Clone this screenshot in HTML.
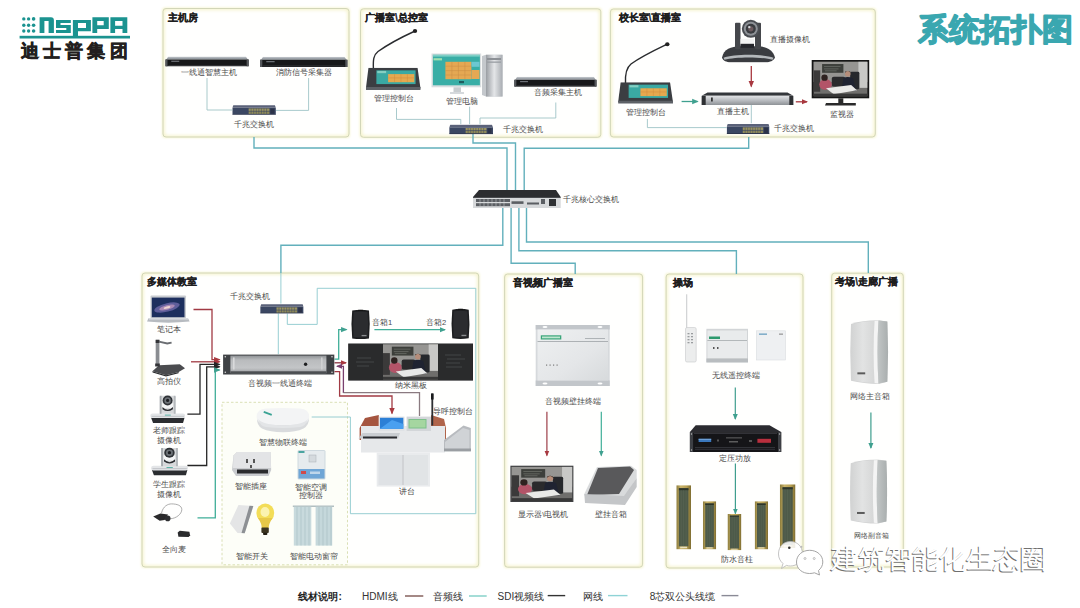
<!DOCTYPE html>
<html><head><meta charset="utf-8">
<style>
html,body{margin:0;padding:0;background:#fff;}
body{width:1080px;height:608px;overflow:hidden;position:relative;font-family:"Liberation Sans",sans-serif;}
svg{position:absolute;left:0;top:0;}
svg text{font-family:"Liberation Sans",sans-serif;}
.lb{font-size:7.6px;fill:#4a4a4a;text-anchor:middle;}
.tt{font-size:10px;font-weight:bold;fill:#1e1e1e;stroke:#1e1e1e;stroke-width:0.25px;transform:translateY(-0.7px);}
.bx{fill:#fffffe;filter:url(#bxg);}
.bxs{fill:none;stroke:#d2d6b8;stroke-width:1;}
.net{fill:none;stroke:#62b0bc;stroke-width:1.4;}
.thin{fill:none;stroke:#9fc4c6;stroke-width:0.9;}
</style></head>
<body>
<svg width="1080" height="608" viewBox="0 0 1080 608">
<defs>
  <filter id="glow" x="-5%" y="-5%" width="110%" height="110%">
    <feMorphology operator="dilate" radius="1.2" in="SourceAlpha" result="d"/>
    <feGaussianBlur in="d" stdDeviation="1.2" result="b"/>
    <feFlood flood-color="#f6f3cf"/>
    <feComposite in2="b" operator="in" result="s"/>
    <feMerge><feMergeNode in="s"/><feMergeNode in="SourceGraphic"/></feMerge>
  </filter>
  <marker id="arT" viewBox="0 0 6 6" refX="5" refY="3" markerWidth="5" markerHeight="5" orient="auto-start-reverse"><path d="M0,0.5 L6,3 L0,5.5z" fill="#3fa08f"/></marker>
  <marker id="arR" viewBox="0 0 6 6" refX="5" refY="3" markerWidth="5" markerHeight="5" orient="auto-start-reverse"><path d="M0,0.5 L6,3 L0,5.5z" fill="#a8383f"/></marker>
  <marker id="arP" viewBox="0 0 6 6" refX="5" refY="3" markerWidth="5" markerHeight="5" orient="auto-start-reverse"><path d="M0,0.5 L6,3 L0,5.5z" fill="#7a3f6e"/></marker>

  <linearGradient id="gTop" x1="0" y1="0" x2="0" y2="1"><stop offset="0" stop-color="#c9ced3"/><stop offset="1" stop-color="#7f858c"/></linearGradient>
  <linearGradient id="gSilver" x1="0" y1="0" x2="0" y2="1"><stop offset="0" stop-color="#e2e4e6"/><stop offset="0.5" stop-color="#b9bcc0"/><stop offset="1" stop-color="#8e9296"/></linearGradient>
  <linearGradient id="gSilverH" x1="0" y1="0" x2="1" y2="0"><stop offset="0" stop-color="#9a9ea3"/><stop offset="0.5" stop-color="#e4e6e8"/><stop offset="1" stop-color="#a9adb2"/></linearGradient>
  <linearGradient id="gWhite" x1="0" y1="0" x2="1" y2="0"><stop offset="0" stop-color="#d9dadb"/><stop offset="0.45" stop-color="#eeeeee"/><stop offset="0.75" stop-color="#dcdcdc"/><stop offset="1" stop-color="#a9acad"/></linearGradient>
  <linearGradient id="gDark" x1="0" y1="0" x2="0" y2="1"><stop offset="0" stop-color="#4a4d52"/><stop offset="1" stop-color="#1b1c1f"/></linearGradient>
  <linearGradient id="gGold" x1="0" y1="0" x2="1" y2="0"><stop offset="0" stop-color="#8a7a3a"/><stop offset="0.3" stop-color="#c9b36a"/><stop offset="0.7" stop-color="#b79f52"/><stop offset="1" stop-color="#7d6c30"/></linearGradient>
  <symbol id="sw" viewBox="0 0 44 10" preserveAspectRatio="none">
    <path d="M1,0.6 H43 L44,3.2 H0z" fill="#5b6279"/>
    <rect x="0" y="3.2" width="44" height="6.8" fill="#3b4762"/>
    <rect x="16.5" y="3.8" width="21" height="2.4" fill="#9c9560"/>
    <rect x="16.5" y="6.8" width="21" height="2.4" fill="#8f8a58"/>
    <g stroke="#3b4762" stroke-width="0.5"><path d="M19,3.8v5.4M21.6,3.8v5.4M24.2,3.8v5.4M26.8,3.8v5.4M29.4,3.8v5.4M32,3.8v5.4M34.6,3.8v5.4"/></g>
    <rect x="38.5" y="4" width="4" height="5" fill="#2b3248"/>
    <rect x="0" y="9.3" width="44" height="0.7" fill="#2a3147"/>
  </symbol>
  <symbol id="rk" viewBox="0 0 84 10" preserveAspectRatio="none">
    <path d="M3,0 H81 L83,3 H1z" fill="url(#gTop)"/>
    <rect x="0" y="3" width="84" height="7" fill="#17181a"/>
    <rect x="0" y="3" width="2.2" height="7" fill="#55585c"/>
    <rect x="81.8" y="3" width="2.2" height="7" fill="#55585c"/>
    <rect x="6" y="4.2" width="8" height="1.2" fill="#6d7177"/>
    <rect x="3" y="8.6" width="78" height="0.8" fill="#3b3d40"/>
  </symbol>
  <symbol id="ptz" viewBox="0 0 54 44" preserveAspectRatio="none">
    <path d="M0.5,39 C2,30 10,28 18,27.5 L37,27.5 C45,28 52,31 53.5,39 C52,42 48,43.5 45,43.5 L9,43.5 C5,43.5 1.5,42 0.5,39z" fill="#3a3c40"/>
    <path d="M2,39 C12,35 42,35 52,39 L51,41 C40,38 14,38 3,41z" fill="#b4b8bb"/>
    <rect x="13.5" y="4" width="5.5" height="26.5" rx="1" fill="#45474b"/>
    <rect x="33.5" y="4" width="6" height="26.5" rx="1" fill="#45474b"/>
    <rect x="19" y="20" width="13.5" height="6" fill="#f2f2f2"/>
    <rect x="19" y="25" width="13.5" height="4" fill="#24252a"/>
    <circle cx="29.3" cy="10" r="9" fill="#4a4d52"/>
    <circle cx="29.3" cy="10" r="7" fill="#8d9196"/>
    <circle cx="29.3" cy="10" r="5" fill="#3a3c40"/>
    <circle cx="29.3" cy="10" r="2.6" fill="#6b5a5e"/>
    <circle cx="27.8" cy="8.3" r="1.2" fill="#d8dbde"/>
  </symbol>
  <symbol id="console" viewBox="0 0 56 24" preserveAspectRatio="none">
    <path d="M2.6,0 H52.3 L55.3,22 H0z" fill="#3b3e42"/>
    <path d="M0,20.5 H55.2 L55.3,23.5 H0z" fill="#5d6166"/>
    <rect x="10.6" y="2.7" width="39.7" height="14.6" fill="#3aa9a3"/>
    <rect x="22.5" y="6.7" width="26.5" height="8.6" fill="#e6a94f"/>
    <rect x="11.5" y="3.3" width="9" height="2.4" fill="#84cfc2"/>
    <g stroke="#d08a3c" stroke-width="0.5"><path d="M29,6.7v8.6M35.5,6.7v8.6M42,6.7v8.6M22.5,10.7h26.5"/></g>
  </symbol>
  <symbol id="photo" viewBox="0 0 56 36" preserveAspectRatio="none">
    <rect width="56" height="36" fill="#6f6e6c"/>
    <rect x="0" y="0" width="56" height="21" fill="#969592"/>
    <rect x="9" y="2.5" width="22" height="9" fill="#3d3f3b"/>
    <path d="M11,5 h17 M11,7.5 h15 M12,9.5 h12" stroke="#7b7e77" stroke-width="0.6"/>
    <rect x="46.5" y="0" width="9.5" height="27" fill="#c8c8c6"/>
    <rect x="0" y="9" width="7" height="22" fill="#3b3a3a"/>
    <rect x="19" y="15.5" width="14" height="10" rx="2" fill="#2a2a2c"/>
    <rect x="38" y="10.5" width="9.5" height="18" rx="1.5" fill="#26282c"/>
    <ellipse cx="12.5" cy="23.5" rx="6.5" ry="5.5" fill="#b35468"/>
    <circle cx="11.5" cy="16.5" r="3.3" fill="#2e2220"/>
    <path d="M29,30 L31,17 Q35,14.5 41,17 L44,30z" fill="#1f2331"/>
    <circle cx="35.5" cy="12.5" r="2.9" fill="#b58d7a"/>
    <path d="M32.6,11.5 Q35.5,8 38.4,11.5 L38.3,10.5 Q35.5,8.6 32.7,10.5z" fill="#2a201c"/>
    <path d="M13,27.5 L39,24 L45,29.5 L21,33.5z" fill="#e9e9e7"/>
    <rect x="0" y="33" width="56" height="3" fill="#383838"/>
  </symbol>

  <symbol id="ptzw" viewBox="0 0 36 30" preserveAspectRatio="none">
    <path d="M1,24.6 H35 L33.5,29.9 H3z" fill="#2b2d30"/>
    <rect x="0.2" y="20.3" width="35.4" height="4.6" rx="2.2" fill="#e3e5e7"/>
    <rect x="1.5" y="22.8" width="33" height="0.8" fill="#b9bdc0"/>
    <rect x="15" y="21.6" width="6" height="0.8" fill="#3aa596"/>
    <path d="M9.8,4 Q9.8,2.5 11.5,2.5 H24.2 Q25.9,2.5 25.9,4 V20.7 H9.8z" fill="#d7d9db"/>
    <rect x="9.8" y="2.5" width="1.8" height="18.2" fill="#a7abaf"/>
    <rect x="24.1" y="2.5" width="1.8" height="18.2" fill="#b4b8bb"/>
    <rect x="12.2" y="10" width="11.2" height="5" fill="#f4f5f6"/>
    <path d="M12.6,13.8 Q17.9,19.5 23.2,13.8 V16 Q17.9,20 12.6,16z" fill="#2a2c30"/>
    <circle cx="17.8" cy="7.2" r="5" fill="#2f3236"/>
    <circle cx="17.8" cy="7.2" r="3.3" fill="#6e7378"/>
    <circle cx="17.8" cy="7.2" r="1.6" fill="#1c1e22"/>
  </symbol>
  <symbol id="spkB" viewBox="0 0 20 30" preserveAspectRatio="none">
    <path d="M1.5,1 Q10,-0.5 18.5,1 Q20,15 18.5,29 Q10,30.3 1.5,29 Q0,15 1.5,1z" fill="#1d1e20"/>
    <path d="M3,2.5 Q10,1.5 17,2.5 Q18.3,15 17,27.5 Q10,28.5 3,27.5 Q1.8,15 3,2.5z" fill="#2b2c2f"/>
    <rect x="7.5" y="0" width="5" height="1.2" fill="#111"/>
    <rect x="11" y="25.5" width="5" height="1.3" fill="#8a8c8f"/>
  </symbol>
  <symbol id="spkW" viewBox="0 0 40 65" preserveAspectRatio="none">
    <path d="M1.5,4 Q14,0 30,0.3 L38.5,1.5 Q40,32 38.5,62.5 L30,64.7 Q14,64.5 1.5,61.5 Q0,32 1.5,4z" fill="#d3d4d4"/>
    <path d="M2.3,4.5 Q14,1 25.5,1 Q23.5,32 25.5,63.8 Q14,63.5 2.3,61 Q1,32 2.3,4.5z" fill="url(#gSpk)"/>
    <path d="M25.5,1 L29.5,0.6 Q27.5,32 29.5,64.4 L25.5,63.8 Q23.5,32 25.5,1z" fill="#f4f4f4"/>
    <path d="M29.5,0.6 L38.5,1.5 Q40,32 38.5,62.5 L29.5,64.4 Q27.5,32 29.5,0.6z" fill="url(#gSpkR)"/>
    <rect x="8" y="53" width="8" height="2" fill="#5b5b5b"/>
  </symbol>
  <symbol id="col" viewBox="0 0 15 64" preserveAspectRatio="none">
    <rect width="15" height="64" fill="url(#gGold)"/>
    <rect x="2.6" y="3" width="9.8" height="58" fill="#4d5a49"/><rect x="2.6" y="3" width="9.8" height="2" fill="#2d3429"/>
    <g stroke="#5f6b59" stroke-width="0.5"><path d="M5,5v56M7.5,5v56M10,5v56"/></g>
    <rect x="4" y="61.3" width="7" height="1.5" fill="#e8e0c0"/>
  </symbol>
  <marker id="arK" viewBox="0 0 6 6" refX="5" refY="3" markerWidth="5" markerHeight="5" orient="auto-start-reverse"><path d="M0,0.5 L6,3 L0,5.5z" fill="#262626"/></marker>
  <linearGradient id="gAV" x1="0" y1="0" x2="0" y2="1"><stop offset="0" stop-color="#8f9295"/><stop offset="0.25" stop-color="#b9bbbd"/><stop offset="0.7" stop-color="#c3c5c7"/><stop offset="1" stop-color="#9a9c9f"/></linearGradient>
  <linearGradient id="gSpk" x1="0" y1="0" x2="1" y2="0"><stop offset="0" stop-color="#d2d3d3"/><stop offset="0.5" stop-color="#e2e3e3"/><stop offset="1" stop-color="#d6d7d7"/></linearGradient>
  <linearGradient id="gSpkR" x1="0" y1="0" x2="1" y2="0"><stop offset="0" stop-color="#c2c6c6"/><stop offset="1" stop-color="#a9aeae"/></linearGradient>
  <filter id="bxg" x="-5%" y="-5%" width="110%" height="110%">
    <feMorphology operator="dilate" radius="1" in="SourceAlpha" result="d"/>
    <feGaussianBlur in="d" stdDeviation="1.2" result="db"/>
    <feFlood flood-color="#f7f5d2" result="c"/>
    <feComposite in="c" in2="db" operator="in" result="outer"/>
    <feMorphology operator="erode" radius="2.2" in="SourceAlpha" result="e"/>
    <feGaussianBlur in="e" stdDeviation="1.4" result="eb"/>
    <feComposite in="SourceAlpha" in2="eb" operator="out" result="ring"/>
    <feComposite in="c" in2="ring" operator="in" result="inner"/>
    <feMerge><feMergeNode in="outer"/><feMergeNode in="SourceGraphic"/><feMergeNode in="inner"/></feMerge>
  </filter>
  <linearGradient id="gWT" x1="0" y1="0" x2="1" y2="1"><stop offset="0" stop-color="#eef0f1"/><stop offset="0.6" stop-color="#e4e6e8"/><stop offset="1" stop-color="#d7dadc"/></linearGradient>
</defs>

<!-- ============ BOXES ============ -->
<rect class="bx" x="163" y="8.5" width="186" height="128.5" rx="3"/>
<rect class="bxs" x="163" y="8.5" width="186" height="128.5" rx="3"/>
<rect class="bx" x="360.5" y="8.8" width="240.3" height="128.5" rx="3"/>
<rect class="bxs" x="360.5" y="8.8" width="240.3" height="128.5" rx="3"/>
<rect class="bx" x="610.4" y="9" width="264.9" height="128" rx="3"/>
<rect class="bxs" x="610.4" y="9" width="264.9" height="128" rx="3"/>
<rect class="bx" x="142" y="273" width="336.7" height="294" rx="3"/>
<rect class="bxs" x="142" y="273" width="336.7" height="294" rx="3"/>
<rect class="bx" x="504.6" y="274" width="138" height="293.2" rx="3"/>
<rect class="bxs" x="504.6" y="274" width="138" height="293.2" rx="3"/>
<rect class="bx" x="666.1" y="274" width="136.9" height="294" rx="3"/>
<rect class="bxs" x="666.1" y="274" width="136.9" height="294" rx="3"/>
<rect class="bx" x="831.7" y="273.2" width="71.6" height="293.8" rx="3"/>
<rect class="bxs" x="831.7" y="273.2" width="71.6" height="293.8" rx="3"/>

<!-- ============ NETWORK LINES ============ -->
<g class="net">
  <path d="M254,137 V148 H507 V191"/>
  <path d="M473,134 V143 H515.5 V191"/>
  <path d="M748.7,137 V148.3 H524.2 V191"/>
  <path d="M502.8,207 V245.2 H280.9 V273"/>
  <path d="M511.1,207 V263.2 H575.2 V274"/>
  <path d="M518.9,207 V250.8 H736.4 V274"/>
  <path d="M526.5,207 V242 H868.3 V273"/>
</g>


<!-- ============ DEVICES ============ -->
<g id="logo">
  <g fill="#1b9390">
    <circle cx="23.8" cy="18.9" r="1.7"/><circle cx="28.6" cy="18.9" r="1.7"/><circle cx="33.6" cy="18.9" r="1.8"/>
    <circle cx="23.8" cy="25.2" r="1.7"/><circle cx="28.6" cy="25.2" r="1.7"/><circle cx="33.6" cy="25.2" r="1.8"/>
    <circle cx="23.8" cy="31" r="1.7"/><circle cx="28.6" cy="31" r="1.7"/><circle cx="33.6" cy="31" r="1.8"/>
    <rect x="19.6" y="35.8" width="110.4" height="2.7"/>
  </g>
  <g fill="#1b9390" fill-rule="evenodd">
    <path d="M39.6,17.3 H51 Q53.9,17.3 53.9,20.3 V33.1 H48.6 V21 H44.4 V33.1 H39.6z"/>
    <path d="M56,19.9 H70.8 V23.1 H60.5 V24.9 H70.8 V33.1 H56 V29.9 H66.3 V28.1 H56z"/>
    <path d="M72.9,19.9 H90.9 V31.2 H78 V37.9 H72.9z M78,23.1 V28 H86 V23.1z"/>
    <path d="M92.4,17.3 H108.8 V28.9 H97.2 V33.1 H92.4z M97.2,21 V25.2 H103.7 V21z"/>
    <path d="M110.4,17.3 H127.3 V33.1 H122.5 V28.9 H115.1 V33.1 H110.4z M115.1,21 V25.7 H122.5 V21z"/>
  </g>
  <text x="20.5" y="56.8" style="font-size:18.4px;font-weight:900;fill:#231f20;stroke:#231f20;stroke-width:0.6px;letter-spacing:4.3px">迪士普集团</text>
</g>

<!-- Box 1 -->
<use href="#rk" x="165.3" y="56.5" width="83.5" height="10"/>
<use href="#rk" x="260" y="56.7" width="87.6" height="10.3"/>
<use href="#sw" x="232.3" y="104.6" width="43.6" height="10.1"/>
<g class="thin">
  <path d="M207,78 V110 H232.3"/>
  <path d="M308.6,78 V110.4 H276"/>
</g>

<!-- Box 2 -->
<g class="thin">
  <path d="M396.5,108 V119.4 H460.8 V124.2"/>
  <path d="M469.6,106.7 V124.2"/>
  <path d="M555.8,102.5 V118 H480 V124.2"/>
</g>
<path d="M373.4,68.5 C373,60 373.5,55 378,51.5 C390,43 402,37 414,31.5" fill="none" stroke="#2a2c2f" stroke-width="1.4"/>
<ellipse cx="415" cy="31" rx="2.2" ry="2" fill="#222"/>
<use href="#console" x="365.9" y="67.8" width="55.3" height="22.6"/>
<rect x="431.5" y="53.5" width="49.7" height="33.8" fill="#d9dee0"/>
<rect x="432.9" y="54.8" width="47" height="30.5" fill="#39aea6"/>
<rect x="432.9" y="54.8" width="47" height="1.8" fill="#7fd0c6"/>
<rect x="433.5" y="58.2" width="8.5" height="2.2" fill="#9fe0b0"/>
<rect x="445.4" y="61.8" width="26" height="17.4" fill="#e5a853"/>
<rect x="471.5" y="61.8" width="8" height="5" fill="#6cc7d1"/>
<rect x="471.5" y="70" width="8" height="9" fill="#e5a853"/>
<g stroke="#c98d44" stroke-width="0.5"><path d="M451.9,61.8v17.4M458.4,61.8v17.4M464.9,61.8v17.4M445.4,66.2h26M445.4,70.6h26M445.4,75h26"/></g>
<rect x="459" y="81" width="5" height="2.2" fill="#1d5b5d"/>
<rect x="453.5" y="87.3" width="7.5" height="5" fill="#c8cdd0"/>
<rect x="450" y="92" width="14" height="2" fill="#d5d9dc"/>
<path d="M482,56 L486,54.8 H502.5 V96.5 H486 L482,95z" fill="#c4c8cc"/>
<rect x="486" y="54.8" width="16.5" height="41.7" fill="url(#gSilverH)"/>
<rect x="487" y="58" width="14" height="2" fill="#8d9196"/>
<rect x="487" y="61.5" width="14" height="1.3" fill="#9a9ea3"/>
<use href="#rk" x="514.2" y="76.8" width="82.5" height="10"/>
<use href="#sw" x="449.2" y="124.2" width="43.8" height="10"/>

<!-- Box 3 -->
<g class="thin">
  <path d="M647.4,119 V127.6 H726.7"/>
  <path d="M751.3,105 V123.3"/>
</g>
<path d="M625.5,83.5 C625,74 626,68 631,64 C642,56 655,50 666.5,44.5" fill="none" stroke="#2a2c2f" stroke-width="1.4"/>
<ellipse cx="667.3" cy="44.2" rx="2.2" ry="2" fill="#222"/>
<use href="#console" x="618.1" y="82.2" width="55.6" height="21.8"/>
<use href="#ptz" x="721.5" y="18.8" width="54" height="44"/>
<path d="M707.5,92.5 H787.5 L793.3,95.8 H701.7z" fill="#34373b"/>
<rect x="701.7" y="95.8" width="91.6" height="9.2" fill="url(#gSilver)"/>
<rect x="701.7" y="95.8" width="4" height="9.2" fill="#2e3033"/>
<rect x="789.3" y="95.8" width="4" height="9.2" fill="#2e3033"/>
<rect x="711" y="97.5" width="1.8" height="4" fill="#333"/>
<rect x="811.7" y="60" width="57.5" height="38.3" fill="#161616"/>
<use href="#photo" x="813.4" y="61.6" width="54.2" height="35"/>
<rect x="838.3" y="98.3" width="5" height="4.7" fill="#2a2a2a"/>
<path d="M826,103 H855.8 L855.8,105.5 H825z" fill="#2a2a2a"/>
<use href="#sw" x="726.7" y="123.3" width="42.8" height="10.7"/>
<line x1="681.6" y1="101.5" x2="697.6" y2="101.5" stroke="#3fa08f" stroke-width="1.3" marker-end="url(#arT)"/>
<line x1="751.3" y1="66" x2="751.3" y2="86.5" stroke="#a8383f" stroke-width="1.3" marker-end="url(#arR)"/>
<line x1="795.8" y1="101.8" x2="807" y2="101.8" stroke="#a8383f" stroke-width="1.3" marker-end="url(#arR)"/>

<!-- Core switch -->
<path d="M479,190 H556 L560.7,197 H473z" fill="#2c2d30"/>
<rect x="473" y="197" width="87.7" height="11" fill="#d7d9db"/>
<rect x="473" y="197" width="87.7" height="1" fill="#4a4c50"/>
<g fill="#5b5e63">
  <rect x="476" y="199" width="34" height="3"/><rect x="476" y="203.2" width="34" height="3"/>
  <rect x="511.5" y="201.3" width="12" height="2.6"/>
  <rect x="527" y="202.5" width="12" height="2"/>
  <rect x="541" y="199" width="4" height="5"/>
  <rect x="549" y="199" width="7" height="7" fill="#2f3134"/>
</g>
<g stroke="#d7d9db" stroke-width="0.5"><path d="M480,199v7.2M484,199v7.2M488,199v7.2M492,199v7.2M496,199v7.2M500,199v7.2M504,199v7.2"/></g>

<!-- Box 4 : multimedia classroom -->
<rect x="222" y="402.3" width="125.5" height="162.5" fill="#fdfef8" stroke="#d6dcae" stroke-width="0.9" stroke-dasharray="2.5,2"/>
<!-- inner teal thin loop -->
<g fill="none" stroke="#8cc8cd" stroke-width="0.9">
  <path d="M280.9,273 V303.6"/>
  <path d="M278.3,313.5 V354.2"/>
  <path d="M287.3,313.5 V324.4 H317.2 V288.3 H475.8 V513.7 H350.4 V417 H311.7"/>
</g>
<!-- AV connection lines -->
<g fill="none" stroke-width="1.3">
  <path d="M193.5,309.5 H212 V359.6 H219.5" stroke="#a13a43" marker-end="url(#arR)"/>
  <path d="M191,361.8 H219.5" stroke="#a13a43" marker-end="url(#arR)"/>
  <path d="M187.4,414.2 H200 V364.4 H219.5" stroke="#262626" marker-end="url(#arK)"/>
  <path d="M187.4,465.5 H206.7 V366.8 H219.5" stroke="#262626" marker-end="url(#arK)"/>
  <path d="M197.5,517.8 H215.3 V370 H219.5" stroke="#3fae98" marker-end="url(#arT)"/>
  <path d="M334.5,359.2 H338.7 V329.6 H346.5" stroke="#3fae98" marker-end="url(#arT)"/>
  <path d="M374.4,329.7 H445" stroke="#3fae98" marker-end="url(#arT)"/>
  <path d="M334.5,362.8 H346" stroke="#8a3342" marker-end="url(#arR)"/>
  <path d="M343.4,393 V366.3 H337" stroke="#7a3f6e" marker-end="url(#arP)"/>
  <path d="M343.4,392.6 H419.5 V416" stroke="#8a7a80"/>
  <path d="M334.5,371.6 H339.6 V396 H392 V413.5" stroke="#a13a43" marker-end="url(#arR)"/>
</g>
<!-- laptop -->
<rect x="150.5" y="295.5" width="35.5" height="22.8" rx="1" fill="#c9ccd0"/>
<rect x="151.8" y="297.6" width="32.7" height="19.6" fill="#1d2f5e"/>
<ellipse cx="167" cy="307.5" rx="13" ry="4.2" fill="#5f5e9a" transform="rotate(-14 167 307.5)"/>
<ellipse cx="167" cy="307.5" rx="8" ry="2.3" fill="#a889b4" transform="rotate(-14 167 307.5)"/>
<ellipse cx="167" cy="307.5" rx="3.5" ry="1.1" fill="#efd6d2" transform="rotate(-14 167 307.5)"/>
<path d="M148.5,318.3 H188 L189.6,321.5 Q168.5,323.8 147,321.5z" fill="#b7bbc0"/>
<rect x="149" y="318.3" width="39" height="1.2" fill="#dfe2e5"/>
<!-- doc camera -->
<path d="M152.4,371.2 L159,365.3 L179.8,364.2 L185,368.3 L178.7,372 L166,375.3z" fill="#4b4c4f"/>
<path d="M152.4,371.2 L166,375.3 L178.7,372 L178.5,373.2 L166,376.5 L152.6,372.4z" fill="#2c2d2f"/>
<rect x="155.7" y="339.8" width="3.7" height="26.2" fill="#8a8d91"/>
<rect x="155.7" y="339.8" width="3.7" height="3.2" fill="#333437"/>
<rect x="155.2" y="363.5" width="4.6" height="3" fill="#333437"/>
<path d="M159,341.6 L167.2,343.5 L171.6,342.6" fill="none" stroke="#6a6d71" stroke-width="1.8"/>
<!-- cameras -->
<use href="#ptzw" x="150.1" y="393.3" width="35.4" height="29.7"/>
<use href="#ptzw" x="150.9" y="445.5" width="37.5" height="30"/>
<!-- omni mic -->
<path d="M161.5,513.2 C163,506 168,503.9 171.5,503.9 C177,503.9 181.8,505.5 181.8,509.5 C181.8,514 176,518.7 170.1,518.7" fill="none" stroke="#8a8a8a" stroke-width="0.7"/>
<path d="M153.2,516.6 L160.4,513.5 L168,514.6 L164.6,520.1 L159.7,520.8z" fill="#2a2a2b"/>
<circle cx="167.7" cy="518.4" r="2.8" fill="#2e2f31"/>
<path d="M177.7,532.5 L179.8,530.8 L189.4,531.8 L190.1,535.3 L188.7,537 L178.4,536.7z" fill="#2a2b2d"/>
<!-- switch -->
<use href="#sw" x="260.2" y="303.6" width="43.4" height="9.9"/>
<!-- AV terminal (2U) -->
<rect x="223.1" y="354.6" width="111.2" height="19.9" fill="#3f4245"/>
<rect x="230.4" y="355.6" width="96" height="17.6" fill="url(#gAV)"/>
<rect x="230.4" y="371.3" width="96" height="1.9" fill="#4c4f52"/>
<rect x="233" y="357.5" width="1.6" height="12" fill="#d9dadb"/>
<rect x="321" y="357.5" width="1.6" height="12" fill="#d0d1d2"/>
<circle cx="305.6" cy="364.3" r="1.7" fill="#1e1f21"/>
<circle cx="225.3" cy="356.8" r="0.8" fill="#d5d5d5"/><circle cx="225.3" cy="372.3" r="0.8" fill="#d5d5d5"/>
<circle cx="332" cy="356.8" r="0.8" fill="#d5d5d5"/><circle cx="332" cy="372.3" r="0.8" fill="#d5d5d5"/>
<!-- speakers -->
<use href="#spkB" x="350.7" y="309.6" width="19.8" height="29.8"/>
<use href="#spkB" x="450.8" y="308.6" width="19.4" height="30.8"/>
<!-- blackboard -->
<rect x="348.2" y="343.5" width="124.8" height="37.1" fill="#232425"/>
<rect x="348.8" y="344" width="123.6" height="36" fill="#2a2b2c"/>
<use href="#photo" x="383" y="344.2" width="55" height="35.6"/>
<g stroke="#6b6d6f" stroke-width="0.5" opacity="0.8">
  <path d="M357,358 h14 M356,362 h18 M357,366 h12 M445,355 h16 M447,359 h18 M446,363 h14 M446,367 h16"/>
</g>
<!-- lectern -->
<path d="M359.6,428 L365,418 L378.8,415 V440 H359.6z" fill="#a5553f"/>
<path d="M431,415 L444,419 L446,428 V440 H431z" fill="#b0644a"/>
<path d="M361,426 H445 V452.5 H361z" fill="#e6e8ea"/>
<path d="M358.5,438.5 L362.5,433 H400 L398,438.5z" fill="#c9cdd1"/>
<rect x="363" y="436.5" width="34" height="2" fill="#2a2c30"/>
<rect x="378.8" y="416.6" width="25.7" height="14.4" fill="#dfe2e5"/>
<rect x="380" y="417.8" width="23.3" height="11" fill="#2c7fd6"/>
<path d="M380,428.8 L392,420 L403.3,424 V428.8z" fill="#4aa0f0"/>
<rect x="406.6" y="416.6" width="24.4" height="14.4" fill="#d3d6d9"/>
<rect x="408.5" y="419" width="18" height="9.5" fill="#7cc08a"/>
<rect x="409.5" y="420" width="16" height="7.5" fill="#a5d6a0"/>
<rect x="431.4" y="393.5" width="1.8" height="32" fill="#2d2f33"/>
<rect x="431" y="393.5" width="2.6" height="6" fill="#1a1b1d"/>
<rect x="376.7" y="452.5" width="53.3" height="34.1" fill="#e9ebed"/>
<rect x="378.5" y="455" width="23.5" height="30" fill="#dfe2e5"/>
<rect x="404" y="455" width="24" height="30" fill="#e1e4e6"/>
<rect x="402.5" y="455" width="1" height="30" fill="#b9bcc0"/>
<path d="M444,440 L463.5,425.6 L470.8,428 V451.3 H444z" fill="#b8bbbf"/>
<path d="M445,442 L463,428 L469.5,430 V449.5 L445,449.5z" fill="#d0d3d6"/>
<rect x="444" y="448.5" width="27" height="2.8" fill="#9a9ea2"/>
<!-- IoT dome -->
<path d="M257,418 Q256.5,425 262,428.5 Q270,432.3 283,432.3 Q296,432.3 303.5,428.5 Q309.3,425 309,418z" fill="#d9dbdd"/>
<path d="M256.6,417 Q256.6,409.5 266,408.6 Q283,407.5 300,408.6 Q309.3,409.5 309.2,417 Q309,423.5 300,424.6 Q283,426 266,424.6 Q256.8,423.5 256.6,417z" fill="#f3f4f5"/>
<path d="M258,419 Q262,424.5 283,425.6 Q304,424.5 308,419 Q306,426 300,427 Q283,429 266,427 Q260,426 258,419z" fill="#e3e5e7"/>
<rect x="263.5" y="412.5" width="8.5" height="1.8" fill="#3aa394" transform="rotate(20 267.7 413.4)"/>
<!-- smart socket -->
<path d="M233.5,455.5 L237,452 H270.5 L271.2,470 L268.5,476 H236 L232,470z" fill="#c9cbce"/>
<path d="M233.5,455.5 L237,452 H270.5 L271,468 H233z" fill="#e3e4e6"/>
<rect x="246" y="459" width="2" height="4" fill="#555"/><rect x="253" y="459" width="2" height="4" fill="#555"/>
<rect x="250" y="465" width="2" height="3" fill="#555"/>
<rect x="237" y="469.5" width="31" height="4" fill="#2b2c2e"/>
<!-- AC controller -->
<rect x="297.5" y="450" width="28" height="29.6" rx="1.5" fill="#cfd9df"/>
<rect x="298.5" y="451" width="26" height="18" fill="#e6ebee"/>
<rect x="298.5" y="451" width="6" height="2" fill="#4aa4a0"/>
<rect x="309" y="455" width="7" height="7" fill="#d5dade" stroke="#aab1b6" stroke-width="0.5"/>
<rect x="298.5" y="469" width="26" height="9.5" fill="#70a6d6"/>
<rect x="301" y="471" width="5" height="3" fill="#d04a4a"/>
<rect x="310" y="471.5" width="10" height="2.5" fill="#bfd6ea"/>
<!-- switch plate + bulb -->
<path d="M229.9,523.4 L238.5,504.9 L253.3,506.1 L244.7,533.2 L237.5,533z" fill="#e4e5e6"/>
<path d="M249.5,505.8 L253.3,506.1 L244.7,533.2 L241.5,533z" fill="#8d9094"/>
<ellipse cx="265.3" cy="513" rx="8.9" ry="9.5" fill="#f3dd58"/>
<path d="M258,518 Q262,524 261.6,528 H268.8 Q268.5,524 272.6,518z" fill="#e7c848"/>
<ellipse cx="265" cy="512" rx="4.5" ry="5" fill="#fbf3b0"/>
<rect x="261.4" y="527.5" width="7.4" height="5.5" rx="1" fill="#3b3420"/>
<rect x="263" y="532.8" width="4.4" height="2.3" rx="1" fill="#221d12"/>
<!-- curtains -->
<rect x="292.8" y="505.6" width="41.2" height="1.2" fill="#9fb0b3"/>
<rect x="293.8" y="506.7" width="17.5" height="38.9" fill="#c8dadd"/>
<rect x="315.6" y="506.7" width="16.6" height="38.9" fill="#c5d8db"/>
<g stroke="#a9c0c4" stroke-width="0.7"><path d="M297,507v38.5M301,507v38.5M305,507v38.5M309,507v38.5M319,507v38.5M323,507v38.5M327,507v38.5M331,507v38.5"/></g>

<!-- Box 5 -->
<rect x="535.7" y="325" width="74" height="61" fill="#d6d9dc"/>
<rect x="535.7" y="325" width="74" height="4.5" fill="#c2c6ca"/>
<rect x="535.7" y="380.5" width="74" height="5.5" fill="#c2c6ca"/>
<rect x="537.5" y="329.5" width="70.5" height="51" fill="url(#gWT)"/>
<rect x="537.5" y="341" width="70.5" height="0.8" fill="#9ea3a7"/>
<rect x="540.8" y="335.3" width="20.5" height="4.2" fill="#3aa57a"/>
<rect x="542" y="336.5" width="18" height="1.8" fill="#bfe7d0"/>
<rect x="585" y="338" width="20" height="0.8" fill="#a0a5a9"/>
<g fill="#7a7a7a"><rect x="546" y="364.5" width="1.2" height="1.2"/><rect x="549.5" y="364.5" width="1.2" height="1.2"/><rect x="553" y="364.5" width="1.2" height="1.2"/><rect x="556.5" y="364.5" width="1.2" height="1.2"/></g>
<ellipse cx="545" cy="327" rx="2.5" ry="1" fill="#fff"/><ellipse cx="600" cy="327" rx="2.5" ry="1" fill="#fff"/>
<ellipse cx="545" cy="383.5" rx="2.5" ry="1" fill="#fff"/><ellipse cx="600" cy="383.5" rx="2.5" ry="1" fill="#fff"/>
<line x1="546.9" y1="411.8" x2="546.9" y2="455.5" stroke="#9d3f48" stroke-width="1.2" marker-end="url(#arR)"/>
<line x1="601.3" y1="411.8" x2="601.3" y2="455.5" stroke="#3fae98" stroke-width="1.2" marker-end="url(#arT)"/>
<rect x="510.4" y="465.7" width="63" height="36.3" fill="#3f4042"/>
<use href="#photo" x="511.4" y="466.7" width="61" height="34.3"/>
<path d="M597,467 L631,465.7 L636.7,470 V478 L624,498 L586,500 L584.3,494z" fill="#d9dbdc"/>
<path d="M598,468 L630,466.5 L634,470 L619,494 L587,495z" fill="#59595b"/>
<path d="M584.3,494 L624,496 L636.7,478 V487 L625,505 L585,503z" fill="#c4c6c8"/>

<!-- Box 6 -->
<rect x="686.3" y="294.3" width="0.9" height="34" fill="#c0c3c5"/>
<rect x="685.5" y="327.5" width="10.7" height="34.5" rx="1.5" fill="#eceded"/>
<rect x="685.5" y="327.5" width="10.7" height="34.5" rx="1.5" fill="none" stroke="#c7c9cb" stroke-width="0.6"/>
<g fill="#9a9d9f"><rect x="687.5" y="333" width="2" height="1.3"/><rect x="691" y="333" width="2" height="1.3"/><rect x="687.5" y="336" width="2" height="1.3"/><rect x="691" y="336" width="2" height="1.3"/><rect x="687.5" y="339" width="2" height="1.3"/><rect x="691" y="339" width="2" height="1.3"/><rect x="687.5" y="342" width="2" height="1.3"/><rect x="691" y="342" width="2" height="1.3"/></g>
<rect x="706.4" y="328.8" width="41.6" height="33.6" fill="#d2d5d7"/>
<rect x="707.4" y="330.5" width="39.6" height="28" fill="#e9ebec"/>
<rect x="709" y="336.5" width="11" height="2.5" fill="#2e9a6e"/>
<rect x="707.4" y="340" width="39.6" height="0.7" fill="#9da2a5"/>
<rect x="713" y="347" width="1.5" height="2" fill="#555"/><rect x="717" y="347" width="1.5" height="2" fill="#555"/>
<rect x="706.4" y="358.5" width="41.6" height="3.9" fill="#b9bdc0"/>
<rect x="756.4" y="330.8" width="29.1" height="29.2" fill="#eef0f2" stroke="#dadde0" stroke-width="0.6"/>
<rect x="759" y="333.5" width="8" height="1.3" fill="#6aa0c0"/>
<rect x="779" y="333.5" width="4" height="1.3" fill="#999"/>
<line x1="735.3" y1="387.4" x2="735.3" y2="419" stroke="#3f9e8e" stroke-width="1.2" marker-end="url(#arT)"/>
<line x1="735.4" y1="463.6" x2="735.4" y2="513.5" stroke="#3f9e8e" stroke-width="1.2" marker-end="url(#arT)"/>
<path d="M695.7,425.3 H769.5 L781.2,432.1 H689.9z" fill="#2b2b30"/>
<rect x="689.9" y="432.1" width="91.3" height="19.9" fill="#151518"/>
<rect x="689.9" y="432.1" width="3.2" height="19.9" fill="#3d3f44"/><rect x="778" y="432.1" width="3.2" height="19.9" fill="#3d3f44"/>
<circle cx="691.5" cy="434" r="0.7" fill="#bbb"/><circle cx="691.5" cy="450" r="0.7" fill="#bbb"/><circle cx="779.6" cy="434" r="0.7" fill="#bbb"/><circle cx="779.6" cy="450" r="0.7" fill="#bbb"/>
<rect x="694" y="433.2" width="83" height="0.8" fill="#3a3a42"/>
<rect x="698.6" y="438.8" width="12.6" height="3.2" fill="#3b78bd"/>
<rect x="698.6" y="438.8" width="12.6" height="1" fill="#79a9dd"/>
<rect x="757.4" y="438.8" width="13.6" height="4" fill="#b92f3e"/>
<rect x="726" y="437.5" width="16" height="0.8" fill="#777"/>
<rect x="729" y="441" width="9" height="1.5" fill="#5c5c5c"/>
<rect x="717" y="439.5" width="2" height="2" fill="#555"/>
<rect x="749" y="440" width="3" height="2" fill="#555"/>
<g stroke="#4a4c52" stroke-width="0.55"><path d="M695,447.5h80M695,449.3h80"/></g>
<use href="#col" x="676.3" y="485.2" width="14.7" height="64.2"/>
<use href="#col" x="702.9" y="501.2" width="13.3" height="48.2"/>
<use href="#col" x="727.5" y="513.9" width="13.9" height="36.4"/>
<use href="#col" x="754.7" y="501.2" width="13.3" height="48.2"/>
<use href="#col" x="779.8" y="484.3" width="15.7" height="63.7"/>

<!-- Box 7 -->
<use href="#spkW" x="849.5" y="320" width="39.3" height="64.2"/>
<line x1="870.9" y1="412.4" x2="870.9" y2="448" stroke="#3f9e8e" stroke-width="1.2" marker-end="url(#arT)"/>
<use href="#spkW" x="849.3" y="459.3" width="38.5" height="64.6"/>

<!-- ============ TEXT: TITLES ============ -->
<text class="tt" x="168" y="22">主机房</text>
<text class="tt" x="365" y="21.5">广播室\总控室</text>
<text class="tt" x="618.5" y="21.5">校长室\直播室</text>
<text class="tt" x="147" y="286.2">多媒体教室</text>
<text class="tt" x="512.8" y="287">音视频广播室</text>
<text class="tt" x="672.8" y="287">操场</text>
<text class="tt" x="835.3" y="285.3">考场\走廊广播</text>

<!-- labels -->
<g class="lb" transform="translate(0,-0.6)">
<text x="208.5" y="75.6">一线通智慧主机</text>
<text x="304" y="75.6">消防信号采集器</text>
<text x="254" y="127.6">千兆交换机</text>

<text x="393.5" y="101.6">管理控制台</text>
<text x="461.6" y="104.6">管理电脑</text>
<text x="558" y="95.4">音频采集主机</text>
<text x="522.5" y="132.9">千兆交换机</text>

<text x="790.3" y="42.8">直播摄像机</text>
<text x="645.7" y="115.4">管理控制台</text>
<text x="733" y="114.3">直播主机</text>
<text x="842" y="117.7">监视器</text>
<text x="794" y="131.9">千兆交换机</text>

<text x="591" y="202.6">千兆核心交换机</text>

<text x="169.4" y="332.4">笔记本</text>
<text x="168.7" y="384.3">高拍仪</text>
<text x="169" y="433.6">老师跟踪</text>
<text x="169" y="443.6">摄像机</text>
<text x="169" y="488.1">学生跟踪</text>
<text x="169" y="497.3">摄像机</text>
<text x="173.5" y="552.9">全向麦</text>
<text x="249.8" y="299.6">千兆交换机</text>
<text x="279.7" y="386.3">音视频一线通终端</text>
<text x="382.1" y="326">音箱1</text>
<text x="436.1" y="326">音箱2</text>
<text x="410.6" y="389.1">纳米黑板</text>
<text x="452.9" y="414.6">导呼控制台</text>
<text x="406.5" y="494.6">讲台</text>
<text x="282.8" y="445.6">智慧物联终端</text>
<text x="251.3" y="489.6">智能插座</text>
<text x="310.8" y="490.4">智能空调</text>
<text x="310.8" y="498.2">控制器</text>
<text x="252" y="559.6">智能开关</text>
<text x="314" y="559.2">智能电动窗帘</text>

<text x="573" y="404.4">音视频壁挂终端</text>
<text x="543.4" y="517.4">显示器\电视机</text>
<text x="610.5" y="517.4">壁挂音箱</text>

<text x="735.6" y="378.9">无线遥控终端</text>
<text x="734.7" y="461.7">定压功放</text>
<text x="736.9" y="562.9">防水音柱</text>

<text x="870" y="400.1">网络主音箱</text>
<text x="871.5" y="538.4" style="font-size:6.5px">网络副音箱</text>
</g>

<!-- big title -->
<text x="918.3" y="39.6" style="font-size:30.6px;font-weight:bold;fill:#3aa7b0;stroke:#3aa7b0;stroke-width:1.5px;stroke-linejoin:round">系统拓扑图</text>

<!-- legend -->
<g style="font-size:10px;fill:#333">
<text x="298.4" y="600" style="font-weight:bold;fill:#1e1e1e">线材说明:</text>
<text x="362" y="600">HDMI线</text>
<text x="433.3" y="600">音频线</text>
<text x="497.5" y="600">SDI视频线</text>
<text x="582.6" y="600">网线</text>
<text x="649.8" y="600">8芯双公头线缆</text>
</g>
<g stroke-width="1.4">
<line x1="405" y1="596" x2="423.3" y2="596" stroke="#7d5652"/>
<line x1="469" y1="596" x2="486.7" y2="596" stroke="#7fcfc6"/>
<line x1="547.7" y1="595.6" x2="565.2" y2="595.6" stroke="#333"/>
<line x1="608" y1="595.6" x2="627.5" y2="595.6" stroke="#8fd3d6"/>
<line x1="721.5" y1="595.6" x2="738.4" y2="595.6" stroke="#8a8a96"/>
</g>

<!-- watermark -->
<g>
  <path d="M778.5,554 C778.5,546 784,541.5 790.5,541.5 C797,541.5 802.5,546 802.5,554 C802.5,561 797,566 790.5,566 C789,566 787.8,565.8 786.5,565.4 L781.5,568.5 L783,563.5 C780.3,561.3 778.5,558 778.5,554z" fill="#fff" fill-opacity="0.88" stroke="#b5b5b5" stroke-width="0.8"/>
  <circle cx="789.3" cy="547.8" r="1.3" fill="#333"/>
  <circle cx="801.3" cy="546.8" r="1.1" fill="#bbb"/>
  <path d="M796.5,562 C796.5,555 802.5,550.3 809.6,550.3 C816.8,550.3 822.8,555 822.8,562 C822.8,565.5 821,568.5 818.5,570.5 L819.5,575 L814.5,572.8 C813,573.2 811.3,573.5 809.6,573.5 C802.5,573.5 796.5,569 796.5,562z" fill="#fff" stroke="#9a9a9a" stroke-width="0.9"/>
  <circle cx="805" cy="558.5" r="1" fill="none" stroke="#999" stroke-width="0.6"/>
  <circle cx="814.2" cy="558.5" r="1" fill="none" stroke="#999" stroke-width="0.6"/>
  <text x="829.5" y="568.6" style="font-size:27.3px;fill:#6f6f6f">建筑智能化生态圈</text>
  <text x="830.5" y="567.8" style="font-size:27.3px;fill:#ffffff">建筑智能化生态圈</text>
</g>

</svg>
</body></html>
